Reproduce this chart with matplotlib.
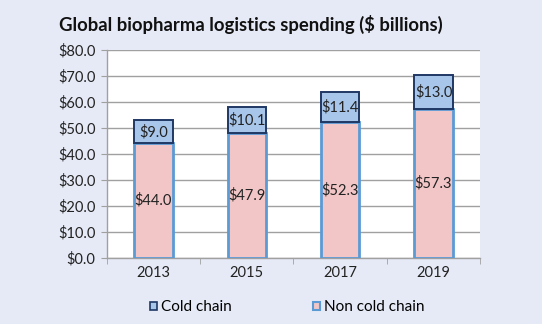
import matplotlib
matplotlib.use("Agg")
import matplotlib.pyplot as plt
from matplotlib.patches import Patch
import numpy as np

years = ["2013", "2015", "2017", "2019"]
non_cold = [44.0, 47.9, 52.3, 57.3]
cold = [9.0, 10.1, 11.4, 13.0]
yticks = [0, 10, 20, 30, 40, 50, 60, 70, 80]

plt.rcParams['font.family'] = ['Lato', 'DejaVu Sans']
bg = '#E6EAF6'
fig = plt.figure(figsize=(5.42, 3.24), dpi=100, facecolor=bg)
ax = fig.add_axes([0.197, 0.204, 0.689, 0.642])
ax.set_facecolor('white')

x = np.arange(len(years))
w = 0.41
pink = '#F2C6C6'
blue_edge = '#5B9BD5'
lightblue = '#A8C6EA'
navy = '#1F3864'

ax.bar(x, non_cold, width=w, color=pink, edgecolor=blue_edge, linewidth=2, zorder=3)
ax.bar(x, cold, bottom=non_cold, width=w, color=lightblue, edgecolor=navy, linewidth=1.4, zorder=3)

for i in range(len(years)):
    ax.text(x[i], non_cold[i] / 2, f"${non_cold[i]:.1f}", ha='center', va='center', fontsize=10.5, color='#222222', zorder=4)
    ax.text(x[i], non_cold[i] + cold[i] / 2, f"${cold[i]:.1f}", ha='center', va='center', fontsize=10.5, color='#222222', zorder=4)

ax.set_xlim(-0.5, len(years) - 0.5)
ax.set_ylim(0, 80)
ax.set_yticks(yticks)
ax.set_yticklabels([f"${v:.1f}" for v in yticks], fontsize=10.5, color='#222222')
ax.yaxis.grid(True, color='#A0A0A0', linewidth=1, zorder=0)
ax.set_xticks(x)
ax.set_xticklabels(years, fontsize=10.5, color='#222222')
ax.set_xticks(np.arange(-0.5, len(years), 1), minor=True)
ax.tick_params(axis='x', which='major', length=0, pad=6)
ax.tick_params(axis='x', which='minor', length=4, color='#A0A0A0')
ax.tick_params(axis='y', length=4, color='#A0A0A0', pad=4)
for s in ['top', 'right']:
    ax.spines[s].set_visible(False)
for s in ['left', 'bottom']:
    ax.spines[s].set_color('#A0A0A0')
    ax.spines[s].set_linewidth(1)

fig.text(0.463, 0.925, "Global biopharma logistics spending ($ billions)", ha='center', va='center',
         fontsize=13.3, fontweight='bold', color='#111111')

handles = [Patch(facecolor=lightblue, edgecolor=navy, linewidth=1.2, label='Cold chain'),
           Patch(facecolor=pink, edgecolor=blue_edge, linewidth=1.5, label='Non cold chain')]
fig.legend(handles=handles, loc='center', bbox_to_anchor=(0.53, 0.052), ncol=2, frameon=False,
           fontsize=11, handlelength=0.45, handleheight=0.45, handletextpad=0.25, columnspacing=5.3)

fig.savefig("out.png", dpi=100, facecolor=bg)
